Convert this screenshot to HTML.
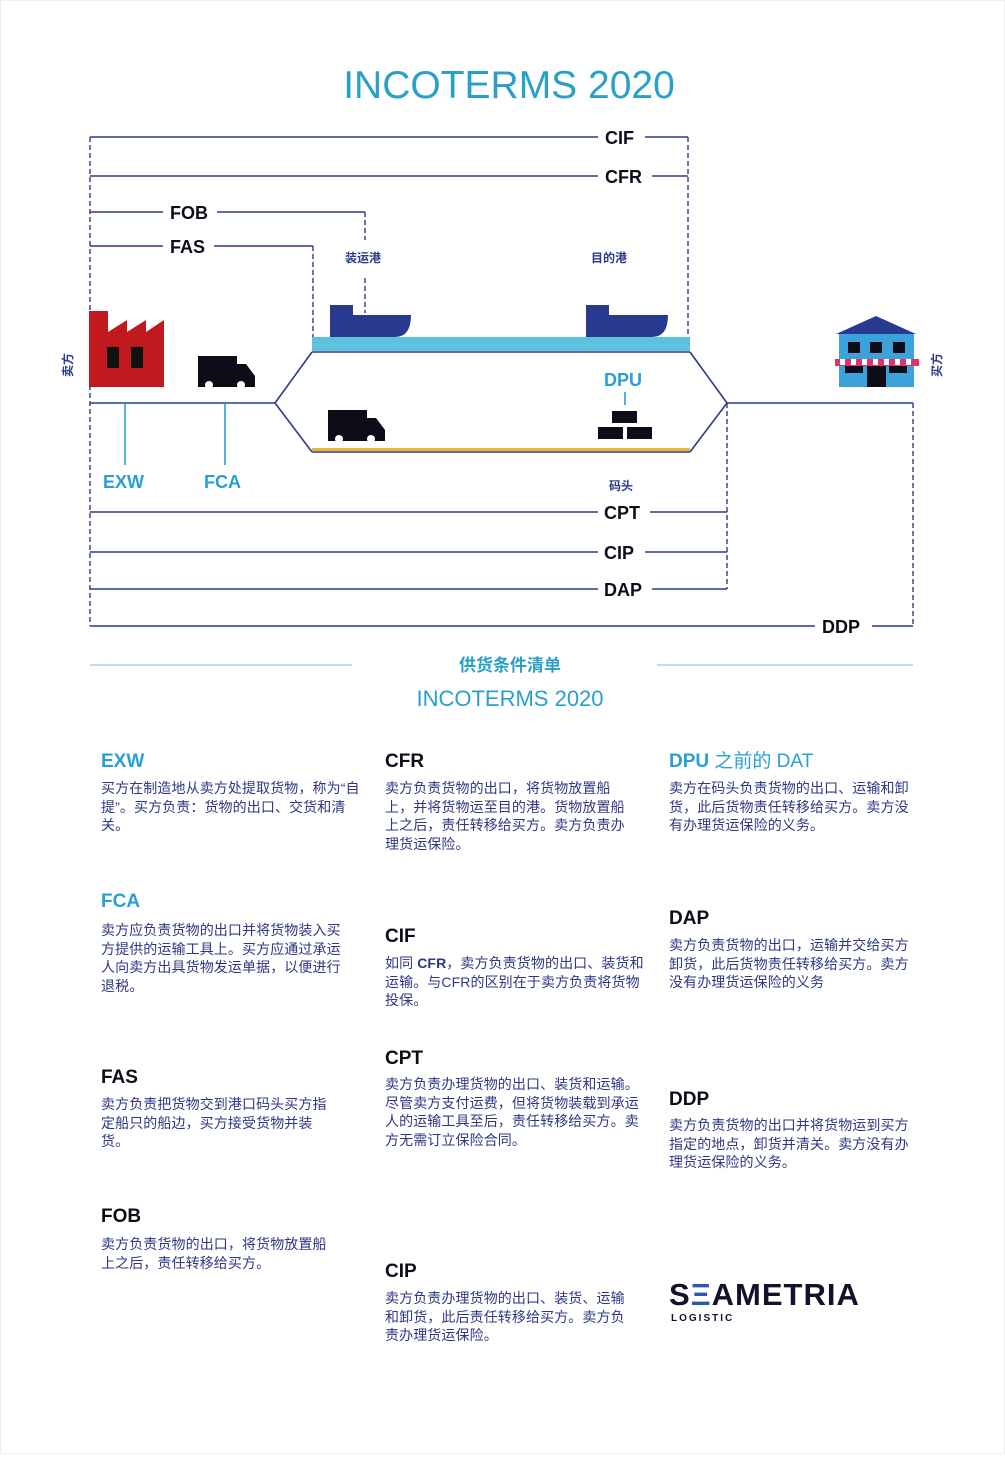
<!DOCTYPE html>
<html><head><meta charset="utf-8">
<style>
html,body{margin:0;padding:0;background:#fff;}
body{width:1005px;height:1459px;position:relative;overflow:hidden;font-family:"Liberation Sans","Noto Sans CJK SC",sans-serif;}
.h{position:absolute;font-weight:bold;font-size:19px;color:#0d0d1a;letter-spacing:0;line-height:22px;}
.hb{color:#2a9fd3;}
.t{position:absolute;font-size:14px;line-height:18.5px;color:#2e3784;letter-spacing:0.1px;white-space:nowrap;}
</style></head><body>
<div style="position:absolute;left:0;top:0;width:1003px;height:1452px;border:1px solid #eee;"></div>
<svg width="1005" height="760" style="position:absolute;left:0;top:0" font-family="Liberation Sans, Noto Sans CJK SC, sans-serif">
<text x="509" y="98" text-anchor="middle" font-size="39" fill="#2aa0c9">INCOTERMS 2020</text>
<g stroke="#2b3a8a" stroke-width="1.6" fill="none">
<line x1="90" y1="137" x2="598" y2="137"/><line x1="645" y1="137" x2="688" y2="137"/>
<line x1="90" y1="176" x2="598" y2="176"/><line x1="652" y1="176" x2="688" y2="176"/>
<line x1="90" y1="212" x2="163" y2="212"/><line x1="217" y1="212" x2="365" y2="212"/>
<line x1="90" y1="246" x2="163" y2="246"/><line x1="214" y1="246" x2="313" y2="246"/>
<line x1="90" y1="403" x2="275" y2="403"/><line x1="727" y1="403" x2="913" y2="403"/>
<polyline points="312,352 275,403 312,452"/>
<polyline points="690,352 727,403 690,452"/>
<line x1="312" y1="352" x2="690" y2="352"/>
<line x1="312" y1="452" x2="690" y2="452"/>
<line x1="90" y1="512" x2="598" y2="512"/><line x1="650" y1="512" x2="727" y2="512"/>
<line x1="90" y1="552" x2="598" y2="552"/><line x1="645" y1="552" x2="727" y2="552"/>
<line x1="90" y1="589" x2="598" y2="589"/><line x1="652" y1="589" x2="727" y2="589"/>
<line x1="90" y1="626" x2="815" y2="626"/><line x1="872" y1="626" x2="913" y2="626"/>
</g>
<g stroke="#2b3a8a" stroke-width="1.4" stroke-dasharray="5,3" fill="none">
<line x1="90" y1="137" x2="90" y2="626"/>
<line x1="688" y1="137" x2="688" y2="338"/>
<line x1="365" y1="212" x2="365" y2="240"/><line x1="365" y1="278" x2="365" y2="313"/>
<line x1="313" y1="246" x2="313" y2="337"/>
<line x1="727" y1="403" x2="727" y2="589"/>
<line x1="913" y1="403" x2="913" y2="626"/>
</g>
<rect x="312" y="337" width="378" height="14" fill="#5dc1e0"/>
<rect x="312" y="448" width="378" height="3" fill="#f0b429"/>
<g font-weight="bold" font-size="18" fill="#0d0d1a">
<text x="605" y="144">CIF</text><text x="605" y="183">CFR</text>
<text x="170" y="219">FOB</text><text x="170" y="253">FAS</text>
<text x="604" y="519">CPT</text><text x="604" y="559">CIP</text>
<text x="604" y="596">DAP</text><text x="822" y="633">DDP</text>
</g>
<g font-size="12" fill="#2b3a8a" font-weight="bold">
<text x="363" y="262" text-anchor="middle">装运港</text>
<text x="609" y="262" text-anchor="middle">目的港</text>
<text x="621" y="490" text-anchor="middle">码头</text>
<text transform="translate(72,365) rotate(-90)" text-anchor="middle">卖方</text>
<text transform="translate(941,365) rotate(-90)" text-anchor="middle">买方</text>
</g>
<path d="M330,305 H353 V315 H411 Q411,337 395,337 H330 Z" fill="#283a8f"/>
<path d="M586,305 H609 V315 H668 Q668,337 652,337 H586 Z" fill="#283a8f"/>
<path d="M89,311 H108 V332 L127,320 V332 L146,320 V332 L164,320 V387 H89 Z" fill="#c0191e"/>
<rect x="107" y="347" width="12" height="21" fill="#111"/><rect x="131" y="347" width="12" height="21" fill="#111"/>
<g fill="#0d0d1a">
<path d="M198,356 H237 V364 H246 L255,376 V387 H198 Z"/>
<path d="M328,410 H367 V418 H376 L385,430 V441 H328 Z"/>
</g>
<g fill="#fff"><circle cx="209" cy="385" r="4"/><circle cx="241" cy="385" r="4"/><circle cx="339" cy="439" r="4"/><circle cx="371" cy="439" r="4"/></g>
<g stroke="#2a9fd3" stroke-width="1.6"><line x1="125" y1="403" x2="125" y2="465"/><line x1="225" y1="403" x2="225" y2="465"/><line x1="625" y1="392" x2="625" y2="405"/></g>
<g font-weight="bold" font-size="18" fill="#2a9fd3"><text x="103" y="488">EXW</text><text x="204" y="488">FCA</text><text x="604" y="386">DPU</text></g>
<g fill="#0d0d1a"><rect x="612" y="411" width="25" height="12"/><rect x="598" y="427" width="25" height="12"/><rect x="627" y="427" width="25" height="12"/></g>
<polygon points="876,316 836,334 916,334" fill="#283a8f"/>
<rect x="839" y="334" width="75" height="53" fill="#3aa3dc"/>
<g fill="#0d0d1a"><rect x="848" y="342" width="12" height="11"/><rect x="870" y="342" width="12" height="11"/><rect x="893" y="342" width="12" height="11"/><rect x="845" y="362" width="18" height="11"/><rect x="889" y="362" width="18" height="11"/><rect x="867" y="362" width="19" height="25"/></g>
<rect x="835" y="359" width="84" height="7" fill="#e0336e"/>
<g fill="#fff"><rect x="840" y="359" width="5" height="6"/><rect x="851" y="359" width="5" height="6"/><rect x="862" y="359" width="5" height="6"/><rect x="873" y="359" width="5" height="6"/><rect x="884" y="359" width="5" height="6"/><rect x="895" y="359" width="5" height="6"/><rect x="906" y="359" width="5" height="6"/></g>
<g stroke="#8fcde6" stroke-width="1.2"><line x1="90" y1="665" x2="352" y2="665"/><line x1="657" y1="665" x2="913" y2="665"/></g>
<text x="510" y="671" text-anchor="middle" font-size="17" font-weight="bold" fill="#2aa0c9">供货条件清单</text>
<text x="510" y="706" text-anchor="middle" font-size="22" fill="#2aa0c9">INCOTERMS 2020</text>
</svg>

<div class="h hb" style="left:101px;top:751px">EXW</div>
<div class="t" style="left:101px;top:779px">买方在制造地从卖方处提取货物，称为“自<br>提”。买方负责：货物的出口、交货和清<br>关。</div>
<div class="h hb" style="left:101px;top:891px">FCA</div>
<div class="t" style="left:101px;top:921px">卖方应负责货物的出口并将货物装入买<br>方提供的运输工具上。买方应通过承运<br>人向卖方出具货物发运单据，以便进行<br>退税。</div>
<div class="h" style="left:101px;top:1067px">FAS</div>
<div class="t" style="left:101px;top:1095px">卖方负责把货物交到港口码头买方指<br>定船只的船边，买方接受货物并装<br>货。</div>
<div class="h" style="left:101px;top:1206px">FOB</div>
<div class="t" style="left:101px;top:1235px">卖方负责货物的出口，将货物放置船<br>上之后，责任转移给买方。</div>

<div class="h" style="left:385px;top:751px">CFR</div>
<div class="t" style="left:385px;top:779px">卖方负责货物的出口，将货物放置船<br>上，并将货物运至目的港。货物放置船<br>上之后，责任转移给买方。卖方负责办<br>理货运保险。</div>
<div class="h" style="left:385px;top:926px">CIF</div>
<div class="t" style="left:385px;top:954px">如同 <b>CFR</b>，卖方负责货物的出口、装货和<br>运输。与CFR的区别在于卖方负责将货物<br>投保。</div>
<div class="h" style="left:385px;top:1048px">CPT</div>
<div class="t" style="left:385px;top:1075px">卖方负责办理货物的出口、装货和运输。<br>尽管卖方支付运费，但将货物装载到承运<br>人的运输工具至后，责任转移给买方。卖<br>方无需订立保险合同。</div>
<div class="h" style="left:385px;top:1261px">CIP</div>
<div class="t" style="left:385px;top:1289px">卖方负责办理货物的出口、装货、运输<br>和卸货，此后责任转移给买方。卖方负<br>责办理货运保险。</div>

<div class="h hb" style="left:669px;top:751px">DPU <span style="font-weight:normal">之前的 DAT</span></div>
<div class="t" style="left:669px;top:779px">卖方在码头负责货物的出口、运输和卸<br>货，此后货物责任转移给买方。卖方没<br>有办理货运保险的义务。</div>
<div class="h" style="left:669px;top:908px">DAP</div>
<div class="t" style="left:669px;top:936px">卖方负责货物的出口，运输并交给买方<br>卸货，此后货物责任转移给买方。卖方<br>没有办理货运保险的义务</div>
<div class="h" style="left:669px;top:1089px">DDP</div>
<div class="t" style="left:669px;top:1116px">卖方负责货物的出口并将货物运到买方<br>指定的地点，卸货并清关。卖方没有办<br>理货运保险的义务。</div>

<div style="position:absolute;left:669px;top:1278px;font-weight:bold;font-size:31px;color:#12122a;letter-spacing:1px;line-height:34px;">S<span style="color:#2a5bb0">Ξ</span>AMETRIA</div>
<div style="position:absolute;left:671px;top:1313px;font-weight:bold;font-size:10px;color:#12122a;letter-spacing:2px;">LOGISTIC</div>
</body></html>
